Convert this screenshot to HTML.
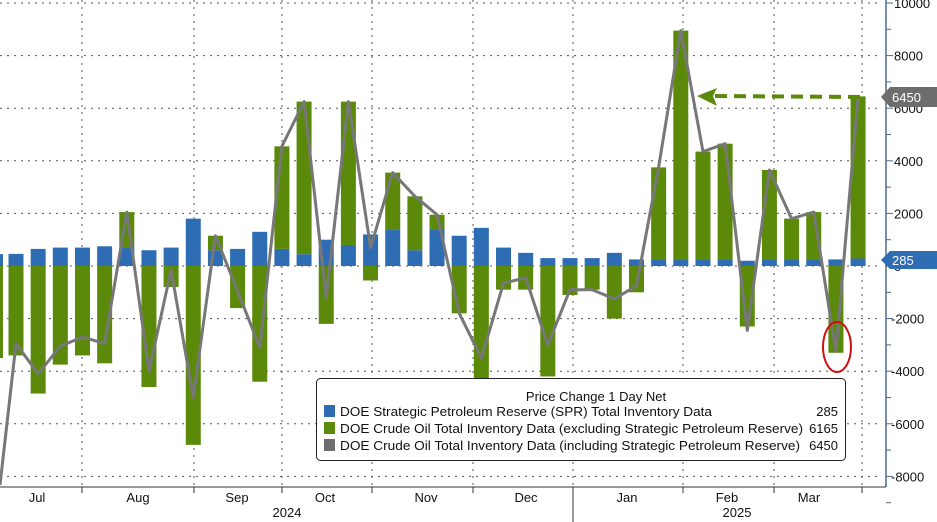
<!DOCTYPE html>
<html><head><meta charset="utf-8"><style>
html,body{margin:0;padding:0;background:#fff;width:937px;height:522px;overflow:hidden}
svg{display:block;font-family:"Liberation Sans",sans-serif}
</style></head><body>
<svg id="s" width="937" height="522" xmlns="http://www.w3.org/2000/svg"></svg>
<script>
const Z=266,K=0.0263;const Y=v=>Z-v*K;
const spr=[460,650,700,700,750,700,600,700,1800,600,650,1300,650,450,1000,800,1200,1400,600,1400,1150,1450,700,500,300,300,300,500,250,250,250,250,250,200,250,250,250,250,285];
const crude=[-3400,-4850,-3750,-3400,-3700,1350,-4600,-800,-6800,550,-1600,-4400,3900,5800,-2200,5450,-550,2150,2050,550,-1800,-4300,-900,-900,-4200,-1100,-900,-2000,-1000,3500,8700,4100,4400,-2300,3400,1550,1800,-3300,6165];
const line=[-2950,-4100,-3050,-2700,-2950,2050,-4000,-150,-5000,1150,-950,-3100,4550,6250,-1200,6250,700,3550,2650,1950,-1800,-3500,-650,-450,-3000,-900,-900,-1250,-750,3750,8950,4350,4650,-2450,3650,1800,2050,-3250,6450];
let h='';
for(let v=-8000;v<=10000;v+=2000){h+=`<line x1="0" x2="882" y1="${Y(v)}" y2="${Y(v)}" stroke="#555" stroke-width="1" stroke-dasharray="2,5"/>`;}
[82,194,282,372,473,573,683,774,862].forEach(x=>{h+=`<line x1="${x}" x2="${x}" y1="0" y2="487" stroke="#555" stroke-width="1" stroke-dasharray="2,5"/>`;});
h+=`<rect x="0" y="${Y(450)}" width="3" height="${450*K}" fill="#2e6db4"/><rect x="0" y="${Z}" width="3" height="${3500*K}" fill="#5b8a0b"/>`;
for(let i=0;i<39;i++){const c=16+i*22.16,x=c-7.5,w=15;const s=spr[i],d=crude[i];
 h+=`<rect x="${x}" y="${Y(s)}" width="${w}" height="${s*K}" fill="#2e6db4"/>`;
 if(d<0)h+=`<rect x="${x}" y="${Z}" width="${w}" height="${-d*K}" fill="#5b8a0b"/>`;
 else h+=`<rect x="${x}" y="${Y(s+d)}" width="${w}" height="${d*K}" fill="#5b8a0b"/>`;}
let pts='0,485 '+line.map((v,i)=>`${(16+i*22.16).toFixed(1)},${Y(v).toFixed(1)}`).join(' ');
h+=`<polyline points="${pts}" fill="none" stroke="#777" stroke-width="3" stroke-linejoin="round"/>`;
h+=`<line x1="860" y1="97" x2="712" y2="96" stroke="#5b8a0b" stroke-width="4" stroke-dasharray="12,7"/>`;
h+=`<polygon points="697,96 717,88 713,96 717,106" fill="#5b8a0b"/>`;
h+=`<ellipse cx="837" cy="347" rx="14" ry="25" fill="none" stroke="#d01010" stroke-width="2"/>`;
h+=`<line x1="886" y1="0" x2="886" y2="487" stroke="#4a6a8a" stroke-width="1.5"/>`;
h+=`<line x1="0" y1="487" x2="886" y2="487" stroke="#333" stroke-width="1"/>`;
for(let v=-9000;v<=10000;v+=1000){h+=`<line x1="886" x2="${v%2000==0?893:891}" y1="${Y(v)}" y2="${Y(v)}" stroke="#4a6a8a"/>`;}
for(let v=-8000;v<=10000;v+=2000){h+=`<text x="${v<0?891:894}" y="${Y(v)+5}" font-size="13" fill="#111">${v}</text>`;}
h+=`<polygon points="881,97 890,87 937,87 937,107 890,107" fill="#6d6d6d"/><text x="892" y="102" font-size="13" fill="#fff">6450</text>`;
h+=`<polygon points="881,260 890,251 937,251 937,269 890,269" fill="#2e6db4"/><text x="892" y="265" font-size="13" fill="#fff">285</text>`;
[82,194,282,372,473,573,683,774,862].forEach(x=>{h+=`<line x1="${x}" x2="${x}" y1="487" y2="493" stroke="#333"/>`;});
[["Jul",37],["Aug",138],["Sep",237],["Oct",325],["Nov",426],["Dec",526],["Jan",627],["Feb",727],["Mar",809]].forEach(a=>{h+=`<text x="${a[1]}" y="502" font-size="13" text-anchor="middle" fill="#111">${a[0]}</text>`;});
h+=`<line x1="573" x2="573" y1="487" y2="522" stroke="#333"/>`;
h+=`<text x="287" y="517" font-size="13" text-anchor="middle" fill="#111">2024</text><text x="737" y="517" font-size="13" text-anchor="middle" fill="#111">2025</text>`;
h+=`<rect x="316.5" y="378.5" width="529" height="82" rx="4" fill="#fff" stroke="#222"/>`;
h+=`<text x="596" y="401" font-size="13" text-anchor="middle" fill="#111">Price Change 1 Day Net</text>`;
const L=[["#2e6db4","DOE Strategic Petroleum Reserve (SPR) Total Inventory Data","285",372],["#5b8a0b","DOE Crude Oil Total Inventory Data (excluding Strategic Petroleum Reserve)","6165",463],["#6d6d6d","DOE Crude Oil Total Inventory Data (including Strategic Petroleum Reserve)","6450",460]];
L.forEach((r,i)=>{const y=416+i*17;h+=`<rect x="324" y="${y-11}" width="11" height="12" fill="${r[0]}"/><text x="340" y="${y}" font-size="13" fill="#111" textLength="${r[3]}" lengthAdjust="spacingAndGlyphs">${r[1]}</text><text x="838" y="${y}" font-size="13" text-anchor="end" fill="#111">${r[2]}</text>`;});
document.getElementById('s').innerHTML=h;
</script>
</body></html>
